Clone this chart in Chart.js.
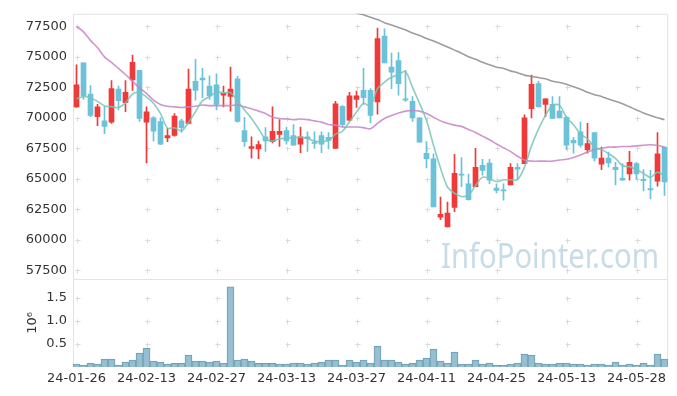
<!DOCTYPE html>
<html lang="en">
<head>
    <meta charset="UTF-8" />
    <title>Price chart</title>
    <script src="https://cdn.jsdelivr.net/npm/chart.js"></script>
    <style>
        html, body { margin: 0; padding: 0; background: #fff; }
        .chart-box { position: relative; width: 677px; height: 396px; }
    </style>
</head>
<body>
    <div class="chart-box">
        <canvas id="priceChart"></canvas>
    </div>

    <script>
        // trading days
        const dates = [
            '24-01-26', '24-01-29', '24-01-30', '24-01-31', '24-02-01', '24-02-02', '24-02-05', '24-02-06', '24-02-07', '24-02-08',
            '24-02-13', '24-02-14', '24-02-15', '24-02-16', '24-02-19', '24-02-20', '24-02-21', '24-02-22', '24-02-23', '24-02-26',
            '24-02-27', '24-02-28', '24-02-29', '24-03-04', '24-03-05', '24-03-06', '24-03-07', '24-03-08', '24-03-11', '24-03-12',
            '24-03-13', '24-03-14', '24-03-15', '24-03-18', '24-03-19', '24-03-20', '24-03-21', '24-03-22', '24-03-25', '24-03-26',
            '24-03-27', '24-03-28', '24-03-29', '24-04-01', '24-04-02', '24-04-03', '24-04-04', '24-04-05', '24-04-08', '24-04-09',
            '24-04-11', '24-04-12', '24-04-15', '24-04-16', '24-04-17', '24-04-18', '24-04-19', '24-04-22', '24-04-23', '24-04-24',
            '24-04-25', '24-04-26', '24-04-29', '24-04-30', '24-05-02', '24-05-03', '24-05-07', '24-05-08', '24-05-09', '24-05-10',
            '24-05-13', '24-05-14', '24-05-16', '24-05-17', '24-05-20', '24-05-21', '24-05-22', '24-05-23', '24-05-24', '24-05-27',
            '24-05-28', '24-05-29', '24-05-30', '24-05-31', '24-06-03'
        ];

        const openPrice = [
            70900, 74500, 71950, 70100, 69750, 69650, 72350, 71250, 73100, 73900,
            69650, 70000, 69700, 68350, 68550, 69750, 69550, 73000, 73250, 72600,
            72700, 71850, 71750, 73200, 68950, 67500, 67450, 68450, 68050, 68650,
            68950, 68550, 67850, 68450, 68000, 68550, 68400, 67500, 70950, 69800,
            71500, 72250, 72250, 71300, 76700, 74150, 74700, 71550, 71350, 70000,
            67100, 66650, 61850, 61050, 62650, 65350, 64600, 64350, 66100, 66300,
            64250, 64100, 64500, 65950, 66250, 70750, 72800, 71100, 71100, 70550,
            70050, 68150, 68850, 67400, 68800, 66200, 66700, 65950, 65050, 65400,
            66250, 64950, 64200, 64800, 67600
        ];
        const highPrice = [
            74350, 74500, 72650, 71100, 70900, 73050, 72600, 73050, 75150, 73900,
            70900, 70100, 70000, 69150, 70350, 69900, 74000, 74800, 74050, 73450,
            73600, 72600, 74150, 73400, 70050, 68450, 68100, 69200, 70900, 69850,
            69250, 69450, 69250, 68850, 68850, 68850, 68800, 71350, 71000, 72100,
            72200, 74050, 72400, 77350, 77300, 75300, 75350, 73900, 71750, 70000,
            68050, 67050, 63500, 63100, 67000, 66750, 65400, 67500, 66600, 66600,
            64600, 64600, 66250, 66250, 70250, 73500, 73000, 71550, 71750, 71750,
            70100, 68400, 69650, 69550, 68800, 67600, 67200, 66350, 66250, 67250,
            66350, 65750, 65700, 68800, 67600
        ];
        const lowPrice = [
            70850, 71500, 70100, 69350, 68700, 69550, 70650, 70500, 72250, 69700,
            66300, 68100, 67800, 68050, 68500, 68800, 69500, 71450, 71650, 71500,
            70650, 70900, 70550, 69650, 67650, 66700, 66650, 67250, 67950, 67650,
            67850, 67750, 67150, 67250, 67500, 67150, 67450, 67500, 69300, 69750,
            70850, 71100, 69600, 70300, 74500, 72400, 71850, 71350, 69700, 68000,
            65900, 62700, 61650, 61050, 62300, 64350, 63250, 64350, 65300, 64600,
            63850, 63250, 64500, 64950, 66250, 70000, 70900, 70100, 69950, 70000,
            67400, 67100, 67600, 67100, 66450, 65750, 65950, 64500, 64900, 64900,
            64950, 64000, 63350, 64400, 63650
        ];
        const closePrice = [
            72700, 71800, 70200, 70900, 69300, 72400, 71400, 72100, 74550, 69950,
            70500, 68900, 67850, 68550, 70150, 69200, 72350, 72250, 73100, 71800,
            71100, 72000, 72350, 69700, 68050, 67650, 67800, 68100, 68900, 68900,
            68100, 67750, 68450, 68300, 67900, 67850, 68150, 71150, 69450, 71800,
            71800, 71650, 70200, 76500, 74500, 73750, 72800, 71450, 70000, 68000,
            66650, 62700, 62100, 62200, 65450, 65300, 63300, 65950, 65700, 64900,
            64050, 64000, 65950, 65800, 70000, 72750, 70900, 71550, 69950, 70000,
            67750, 67950, 67750, 67900, 66700, 66700, 66300, 65750, 64900, 66350,
            65400, 64850, 64100, 67050, 64750
        ];
        const volume = [
            64000, 36000, 79000, 64000, 171000, 171000, 43000, 107000, 150000, 300000,
            407000, 129000, 107000, 64000, 79000, 79000, 257000, 129000, 129000, 107000,
            129000, 86000, 1736000, 150000, 171000, 129000, 79000, 79000, 79000, 64000,
            64000, 86000, 86000, 64000, 86000, 107000, 150000, 150000, 36000, 150000,
            107000, 150000, 86000, 450000, 150000, 150000, 107000, 64000, 79000, 150000,
            193000, 386000, 129000, 86000, 321000, 64000, 64000, 150000, 64000, 86000,
            43000, 36000, 64000, 86000, 279000, 257000, 86000, 64000, 64000, 86000,
            86000, 64000, 64000, 43000, 64000, 64000, 43000, 107000, 43000, 64000,
            43000, 86000, 43000, 279000, 171000
        ];
        const ma5 = [
            71550, 71750, 71650, 71350, 70980, 70920, 70840, 71220, 71950, 72080,
            71700, 71200, 70350, 69150, 69190, 68930, 69620, 70500, 71410, 71740,
            72120, 72050, 72070, 71390, 70640, 69950, 69110, 68260, 68100, 68270,
            68360, 68350, 68420, 68300, 68100, 68050, 68130, 68670, 68900, 69680,
            70470, 71170, 70980, 72390, 72930, 73320, 73550, 73800, 72500, 71200,
            69780, 67760, 65890, 64330, 63820, 63550, 63670, 64440, 65140, 65030,
            64780, 64920, 64920, 64940, 65960, 67700, 69080, 70200, 71030, 71030,
            70030, 69440, 68680, 68270, 67610, 67400, 67070, 66670, 66070, 66000,
            65740, 65450, 65120, 65550, 65230
        ];
        const ma20 = [
            77500, 77050, 76350, 75750, 75000, 74550, 74050, 73550, 73000, 72450,
            72000, 71450, 71100, 70950, 70900, 70850, 70900, 70950, 71050, 71000,
            71000, 71000, 71000, 71050, 70900, 70750, 70550, 70350, 70050, 69950,
            69900, 69850, 69900, 69850, 69750, 69650, 69450, 69400, 69250, 69250,
            69250, 69200, 69100, 69550, 69950, 70200, 70400, 70550, 70600, 70550,
            70350, 70050, 69750, 69550, 69400, 69300, 69050, 68800, 68500, 68200,
            67850, 67550, 67250, 66850, 66550, 66450, 66450, 66450, 66450, 66550,
            66600, 66750, 66950, 67200, 67400, 67500, 67600, 67600, 67650, 67650,
            67700, 67750, 67800, 67750, 67600
        ];
        const ma60 = [
            null, null, null, null, null, null, null, null, null, null,
            null, null, null, null, null, null, null, null, null, null,
            null, null, null, null, null, null, null, null, null, null,
            null, null, null, null, null, null, null, null, 79100, 78850,
            78600, 78450, 78250, 78050, 77800, 77600, 77400, 77200, 76950, 76750,
            76500, 76300, 76050, 75800, 75550, 75300, 75000, 74800, 74550, 74350,
            74150, 74050, 73850, 73700, 73500, 73400, 73300, 73200, 73000, 72900,
            72750, 72550, 72350, 72100, 71900, 71750, 71550, 71350, 71150, 70900,
            70650, 70400, 70200, 70000, 69850
        ];
        const priceTicks = [57500, 60000, 62500, 65000, 67500, 70000, 72500, 75000, 77500];
        const volumeTicks = [500000, 1000000, 1500000];

        const UP = 'rgb(240, 58, 58)';
        const DOWN = 'rgb(108, 194, 217)';
        const candleColors = openPrice.map((o, i) => closePrice[i] >= o ? UP : DOWN);

        Chart.defaults.font.family = "'DejaVu Sans', sans-serif";
        Chart.defaults.font.size = 13;
        Chart.defaults.color = '#333';

        // frame, "+" grid marks and watermark
        const framePlugin = {
            id: 'frame',
            beforeDatasetsDraw(chart) {
                const { ctx, chartArea: a, scales } = chart;
                ctx.save();

                ctx.font = "34px 'Noto Sans'";
                const txt = 'InfoPointer.com';
                const w = ctx.measureText(txt).width;
                ctx.translate(441, 268);
                ctx.scale(218 / w, 1);
                ctx.fillStyle = 'rgba(165, 198, 216, 0.62)';
                ctx.textBaseline = 'alphabetic';
                ctx.fillText(txt, 0, 0);
                ctx.setTransform(1, 0, 0, 1, 0, 0);

                ctx.strokeStyle = '#e3e3e3';
                ctx.lineWidth = 1;
                ctx.strokeRect(a.left + 0.5, a.top + 0.5, a.width - 1, a.height - 1);
                const sep = Math.round(scales.yv.top) + 0.5;
                ctx.beginPath();
                ctx.moveTo(a.left, sep);
                ctx.lineTo(a.right, sep);
                ctx.stroke();

                ctx.strokeStyle = '#dadada';
                const ys = priceTicks.map(v => scales.y.getPixelForValue(v))
                    .concat(volumeTicks.map(v => scales.yv.getPixelForValue(v)));
                for (let i = 0; i < dates.length; i += 10) {
                    const x = Math.round(scales.x.getPixelForValue(i)) + 0.5;
                    ys.forEach(yy => {
                        const y = Math.round(yy) + 0.5;
                        ctx.beginPath();
                        ctx.moveTo(x - 2, y); ctx.lineTo(x + 3, y);
                        ctx.moveTo(x, y - 2); ctx.lineTo(x, y + 3);
                        ctx.stroke();
                    });
                }
                ctx.restore();
            }
        };

        const lineStyle = (color) => ({
            type: 'line',
            yAxisID: 'y',
            borderColor: color,
            borderWidth: 1.6,
            pointRadius: 0,
            tension: 0.3,
            order: 0
        });

        new Chart(document.getElementById('priceChart'), {
            type: 'bar',
            data: {
                labels: dates,
                datasets: [
                    { ...lineStyle('rgba(120, 196, 182, 0.85)'), label: 'MA5', data: ma5 },
                    { ...lineStyle('rgba(200, 130, 196, 0.85)'), label: 'MA20', data: ma20 },
                    { ...lineStyle('rgba(140, 140, 140, 0.85)'), label: 'MA60', data: ma60 },
                    {
                        label: 'body',
                        yAxisID: 'y',
                        data: openPrice.map((o, i) => [o, closePrice[i]]),
                        backgroundColor: candleColors,
                        barThickness: 5,
                        minBarLength: 1,
                        grouped: false,
                        order: 1
                    },
                    {
                        label: 'wick',
                        yAxisID: 'y',
                        data: lowPrice.map((l, i) => [l, highPrice[i]]),
                        backgroundColor: candleColors,
                        barThickness: 1,
                        grouped: false,
                        order: 2
                    },
                    {
                        label: 'volume',
                        yAxisID: 'yv',
                        data: volume,
                        backgroundColor: 'rgba(145, 188, 207, 0.95)',
                        borderColor: 'rgb(110, 160, 182)',
                        borderWidth: 1,
                        barPercentage: 1,
                        categoryPercentage: 1,
                        grouped: false,
                        order: 3
                    }
                ]
            },
            options: {
                responsive: true,
                maintainAspectRatio: false,
                animation: false,
                layout: { padding: { top: 10, right: 9, left: 0, bottom: 0 } },
                plugins: { legend: { display: false }, tooltip: { enabled: false } },
                scales: {
                    x: {
                        type: 'category',
                        offset: true,
                        grid: { display: false, drawTicks: false },
                        border: { display: false },
                        ticks: {
                            autoSkip: false,
                            maxRotation: 0,
                            padding: 4,
                            color: '#333',
                            callback: (v, i) => (i % 10 === 0 ? dates[i] : null)
                        },
                        afterFit: (s) => { s.height = 29; }
                    },
                    // volume first so that it is stacked under the price panel
                    yv: {
                        type: 'linear',
                        position: 'left',
                        stack: 'panels',
                        stackWeight: 1,
                        min: 0,
                        max: 1915000,
                        grid: { display: false, drawTicks: false },
                        border: { display: false },
                        afterBuildTicks: (s) => { s.ticks = volumeTicks.map(v => ({ value: v })); },
                        ticks: { autoSkip: false, padding: 6, color: '#333', callback: (v) => (v / 1e6).toFixed(1) },
                        title: { display: true, text: '10⁶', color: '#333', font: { size: 13 }, padding: { top: 25, bottom: 0 } },
                        afterFit: (s) => { s.width = 73; }
                    },
                    y: {
                        type: 'linear',
                        position: 'left',
                        stack: 'panels',
                        stackWeight: 3,
                        min: 56815,
                        max: 78527,
                        grid: { display: false, drawTicks: false },
                        border: { display: false },
                        afterBuildTicks: (s) => { s.ticks = priceTicks.map(v => ({ value: v })); },
                        ticks: { autoSkip: false, padding: 6, color: '#333', callback: (v) => String(v) },
                        afterFit: (s) => { s.width = 73; }
                    }
                }
            },
            plugins: [framePlugin]
        });
    </script>
</body>
</html>
